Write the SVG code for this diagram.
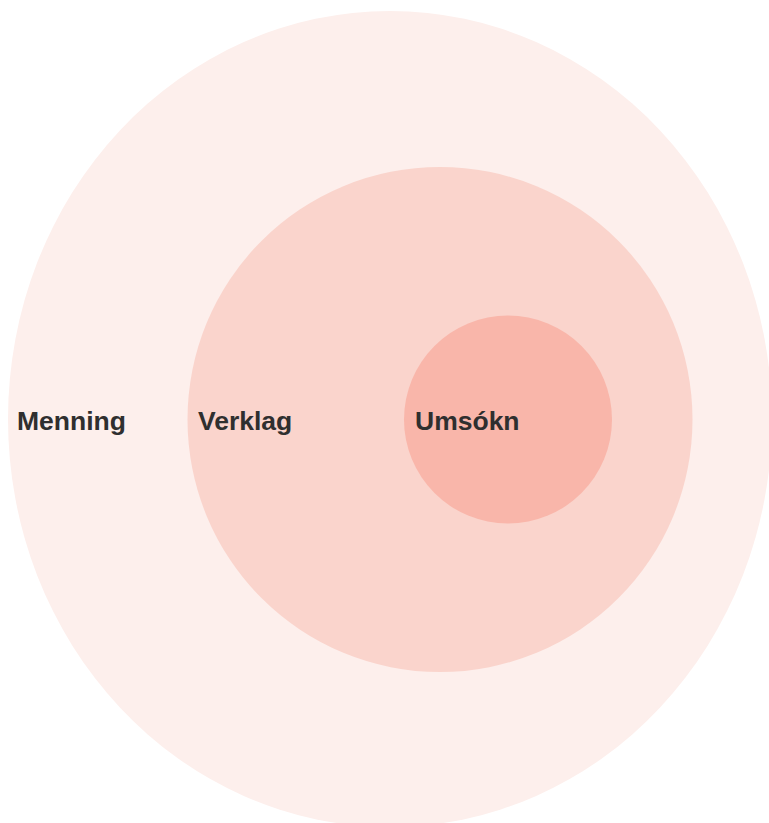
<svg xmlns="http://www.w3.org/2000/svg" width="769" height="823" viewBox="0 0 769 823">
  <style>
    .label { font-family: "Liberation Sans", Arial, sans-serif; font-weight: bold; font-size: 26.5px; fill: #2f2f2f; }
    .ring-outer { fill: #fdefec; }
    .ring-middle { fill: #fad4cc; }
    .ring-inner { fill: #f9b6aa; }
  </style>
  <rect width="769" height="823" fill="#ffffff"/>
  <g id="menning">
    <ellipse class="ring-outer" cx="390" cy="419" rx="382" ry="408"/>
    <text class="label" x="17" y="430">Menning</text>
  </g>
  <g id="verklag">
    <circle class="ring-middle" cx="440" cy="419.5" r="252.5"/>
    <text class="label" x="198" y="430">Verklag</text>
  </g>
  <g id="umsokn">
    <circle class="ring-inner" cx="508" cy="419.5" r="104"/>
    <text class="label" x="415" y="430">Umsókn</text>
  </g>
  <g id="connectors"/>
</svg>
